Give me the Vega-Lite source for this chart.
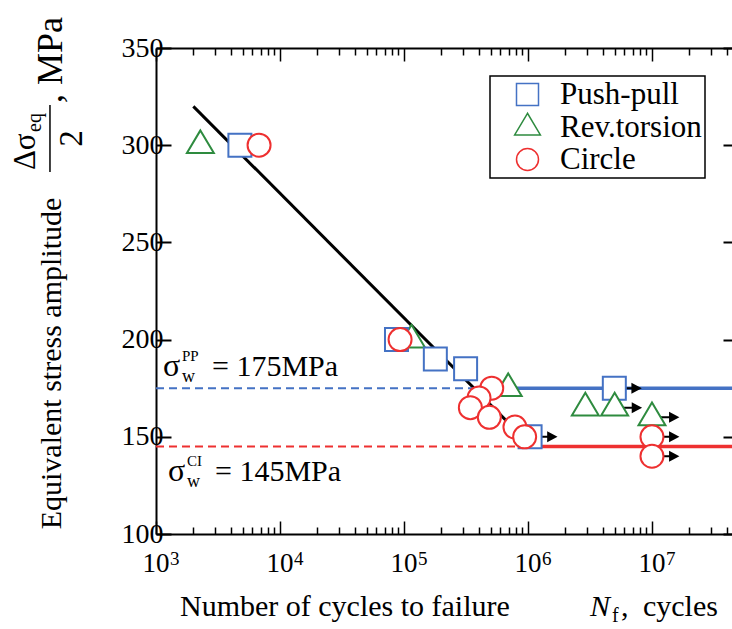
{
  "$schema": "https://vega.github.io/schema/vega-lite/v6.json",
  "width": 576,
  "height": 486,
  "autosize": {"type": "none"},
  "padding": {"left": 156, "top": 48, "right": 0, "bottom": 95},
  "background": "white",
  "config": {
    "view": {"stroke": null},
    "font": "Liberation Serif",
    "text": {"font": "Liberation Serif", "color": "black"},
    "legend": {"strokeWidth": 1.5}
  },
  "datasets": {
    "pts": [
      {"N": 2280, "S": 300, "type": "Rev.torsion", "runout": false},
      {"N": 115000, "S": 200, "type": "Rev.torsion", "runout": false},
      {"N": 4750, "S": 300, "type": "Push-pull", "runout": false},
      {"N": 87000, "S": 200, "type": "Push-pull", "runout": false},
      {"N": 179000, "S": 190, "type": "Push-pull", "runout": false},
      {"N": 314000, "S": 185, "type": "Push-pull", "runout": false},
      {"N": 1040000, "S": 150, "type": "Push-pull", "runout": true},
      {"N": 4970000, "S": 175, "type": "Push-pull", "runout": true},
      {"N": 693000, "S": 175, "type": "Rev.torsion", "runout": false},
      {"N": 2900000, "S": 165, "type": "Rev.torsion", "runout": false},
      {"N": 5000000, "S": 165, "type": "Rev.torsion", "runout": true},
      {"N": 10000000, "S": 160, "type": "Rev.torsion", "runout": true},
      {"N": 6780, "S": 300, "type": "Circle", "runout": false},
      {"N": 93000, "S": 200, "type": "Circle", "runout": false},
      {"N": 510000, "S": 175, "type": "Circle", "runout": false},
      {"N": 403000, "S": 170, "type": "Circle", "runout": false},
      {"N": 343000, "S": 165, "type": "Circle", "runout": false},
      {"N": 488000, "S": 160, "type": "Circle", "runout": false},
      {"N": 785000, "S": 155, "type": "Circle", "runout": false},
      {"N": 940000, "S": 150, "type": "Circle", "runout": false},
      {"N": 10000000, "S": 150, "type": "Circle", "runout": true},
      {"N": 10000000, "S": 140, "type": "Circle", "runout": true}
    ],
    "fit": [
      {"N": 2000, "S": 320},
      {"N": 1080000, "S": 145}
    ],
    "limits": [
      {"series": "Push-pull", "style": "dashed", "N1": 1000, "N2": 369000, "S": 175},
      {"series": "Push-pull", "style": "solid", "N1": 369000, "N2": 44200000, "S": 175},
      {"series": "Circle", "style": "dashed", "N1": 1000, "N2": 1080000, "S": 145},
      {"series": "Circle", "style": "solid", "N1": 1080000, "N2": 44200000, "S": 145}
    ],
    "xlab": [
      {"N": 1000, "e": "3"},
      {"N": 10000, "e": "4"},
      {"N": 100000, "e": "5"},
      {"N": 1000000, "e": "6"},
      {"N": 10000000, "e": "7"}
    ],
    "one": [{}]
  },
  "resolve": {"axis": {"x": "independent", "y": "independent"}},
  "layer": [
    {
      "data": {"name": "fit"},
      "mark": {"type": "line", "color": "black", "strokeWidth": 3},
      "encoding": {
        "x": {"field": "N", "type": "quantitative",
          "scale": {"type": "log", "domain": [1000, 44200000], "nice": false},
          "axis": {"orient": "bottom", "title": null, "labels": false, "grid": false,
            "values": [1000,2000,3000,4000,5000,6000,7000,8000,9000,10000,20000,30000,40000,50000,60000,70000,80000,90000,100000,200000,300000,400000,500000,600000,700000,800000,900000,1000000,2000000,3000000,4000000,5000000,6000000,7000000,8000000,9000000,10000000,20000000,30000000,40000000],
            "domainColor": "black", "domainWidth": 2, "tickColor": "black", "tickWidth": 1.5,
            "tickSize": {"condition": {"test": "abs(log(datum.value)/LN10 - round(log(datum.value)/LN10)) < 0.001", "value": -13}, "value": -7}}},
        "y": {"field": "S", "type": "quantitative",
          "scale": {"domain": [100, 350], "nice": false, "zero": false},
          "axis": {"orient": "left", "title": null, "grid": false, "values": [100,150,200,250,300,350],
            "domainColor": "black", "domainWidth": 2, "tickColor": "black", "tickWidth": 2, "tickSize": -15,
            "labelFont": "Liberation Serif", "labelFontSize": 28, "labelColor": "black", "labelPadding": 8, "labelFlush": false}}
      }
    },
    {
      "data": {"name": "limits"},
      "transform": [{"filter": "datum.series === 'Push-pull' && datum.style === 'dashed'"}],
      "mark": {"type": "rule", "color": "#4472C4", "strokeWidth": 2, "strokeDash": [8, 5]},
      "encoding": {
        "x": {"field": "N1", "type": "quantitative",
          "scale": {"type": "log", "domain": [1000, 44200000], "nice": false},
          "axis": {"orient": "top", "title": null, "labels": false, "grid": false,
            "values": [1000,2000,3000,4000,5000,6000,7000,8000,9000,10000,20000,30000,40000,50000,60000,70000,80000,90000,100000,200000,300000,400000,500000,600000,700000,800000,900000,1000000,2000000,3000000,4000000,5000000,6000000,7000000,8000000,9000000,10000000,20000000,30000000,40000000],
            "domainColor": "black", "domainWidth": 2, "tickColor": "black", "tickWidth": 1.5,
            "tickSize": {"condition": {"test": "abs(log(datum.value)/LN10 - round(log(datum.value)/LN10)) < 0.001", "value": -13}, "value": -7}}},
        "x2": {"field": "N2"},
        "y": {"field": "S", "type": "quantitative",
          "scale": {"domain": [100, 350], "nice": false, "zero": false},
          "axis": {"orient": "right", "title": null, "labels": false, "grid": false, "domain": false,
            "values": [100,150,200,250,300,350], "tickColor": "black", "tickWidth": 2, "tickSize": -9}}
      }
    },
    {
      "data": {"name": "limits"},
      "transform": [{"filter": "datum.series === 'Push-pull' && datum.style === 'solid'"}],
      "mark": {"type": "rule", "color": "#4472C4", "strokeWidth": 3.5},
      "encoding": {
        "x": {"field": "N1", "type": "quantitative", "scale": {"type": "log", "domain": [1000, 44200000], "nice": false}, "axis": null},
        "x2": {"field": "N2"},
        "y": {"field": "S", "type": "quantitative", "scale": {"domain": [100, 350], "nice": false, "zero": false}, "axis": null}
      }
    },
    {
      "data": {"name": "limits"},
      "transform": [{"filter": "datum.series === 'Circle' && datum.style === 'dashed'"}],
      "mark": {"type": "rule", "color": "#EE3030", "strokeWidth": 2, "strokeDash": [8, 5]},
      "encoding": {
        "x": {"field": "N1", "type": "quantitative", "scale": {"type": "log", "domain": [1000, 44200000], "nice": false}, "axis": null},
        "x2": {"field": "N2"},
        "y": {"field": "S", "type": "quantitative", "scale": {"domain": [100, 350], "nice": false, "zero": false}, "axis": null}
      }
    },
    {
      "data": {"name": "limits"},
      "transform": [{"filter": "datum.series === 'Circle' && datum.style === 'solid'"}],
      "mark": {"type": "rule", "color": "#EE3030", "strokeWidth": 3.5},
      "encoding": {
        "x": {"field": "N1", "type": "quantitative", "scale": {"type": "log", "domain": [1000, 44200000], "nice": false}, "axis": null},
        "x2": {"field": "N2"},
        "y": {"field": "S", "type": "quantitative", "scale": {"domain": [100, 350], "nice": false, "zero": false}, "axis": null}
      }
    },
    {
      "data": {"name": "pts"},
      "transform": [{"filter": "datum.runout"}],
      "mark": {"type": "point", "shape": "M0,-0.036H0.64V0.036H0Z M0.61,-0.196L0.98,0L0.61,0.196Z", "size": 3136, "filled": true, "fill": "black", "fillOpacity": 1, "strokeWidth": 0, "opacity": 1},
      "encoding": {
        "x": {"field": "N", "type": "quantitative", "scale": {"type": "log", "domain": [1000, 44200000], "nice": false}, "axis": null},
        "y": {"field": "S", "type": "quantitative", "scale": {"domain": [100, 350], "nice": false, "zero": false}, "axis": null}
      }
    },
    {
      "data": {"name": "pts"},
      "mark": {"type": "point", "fill": "white", "fillOpacity": 1, "strokeWidth": 2, "size": 529, "opacity": 1},
      "encoding": {
        "x": {"field": "N", "type": "quantitative", "scale": {"type": "log", "domain": [1000, 44200000], "nice": false}, "axis": null},
        "y": {"field": "S", "type": "quantitative", "scale": {"domain": [100, 350], "nice": false, "zero": false}, "axis": null},
        "stroke": {"field": "type", "type": "nominal",
          "scale": {"domain": ["Push-pull", "Rev.torsion", "Circle"], "range": ["#4472C4", "#2E8B3F", "#EE3030"]},
          "legend": {"title": null, "orient": "none", "legendX": 334, "legendY": 28, "labelFont": "Liberation Serif", "labelFontSize": 31, "labelColor": "black", "symbolSize": 484, "symbolStrokeWidth": 1.5, "symbolFillColor": "white", "symbolOpacity": 1, "padding": 3, "symbolOffset": 19, "labelOffset": 17, "rowPadding": 0, "strokeColor": "black", "fillColor": "white", "labelLimit": 0}},
        "shape": {"field": "type", "type": "nominal",
          "scale": {"domain": ["Push-pull", "Rev.torsion", "Circle"], "range": ["M-1,-1H1V1H-1Z", "M0,-1.29L-1.17,0.68L1.17,0.68Z", "M1,0A1,1,0,1,1,-1,0A1,1,0,1,1,1,0Z"]},
          "legend": {"title": null, "orient": "none", "legendX": 334, "legendY": 28, "labelFont": "Liberation Serif", "labelFontSize": 31, "labelColor": "black", "symbolSize": 484, "symbolStrokeWidth": 1.5, "symbolFillColor": "white", "symbolOpacity": 1, "padding": 3, "symbolOffset": 19, "labelOffset": 17, "rowPadding": 0, "strokeColor": "black", "fillColor": "white", "labelLimit": 0}}
      }
    },
    {
      "data": {"name": "xlab"},
      "mark": {"type": "text", "text": "10", "fontSize": 27, "dy": 38, "align": "center", "baseline": "alphabetic", "font": "Liberation Serif", "color": "black"},
      "encoding": {
        "x": {"field": "N", "type": "quantitative", "scale": {"type": "log", "domain": [1000, 44200000], "nice": false}, "axis": null},
        "y": {"datum": 100, "type": "quantitative", "scale": {"domain": [100, 350], "nice": false, "zero": false}, "axis": null}
      }
    },
    {
      "data": {"name": "xlab"},
      "mark": {"type": "text", "fontSize": 19, "dx": 14, "dy": 31, "align": "left", "baseline": "alphabetic", "font": "Liberation Serif", "color": "black"},
      "encoding": {
        "x": {"field": "N", "type": "quantitative", "scale": {"type": "log", "domain": [1000, 44200000], "nice": false}, "axis": null},
        "y": {"datum": 100, "type": "quantitative", "scale": {"domain": [100, 350], "nice": false, "zero": false}, "axis": null},
        "text": {"field": "e"}
      }
    },
    {
      "data": {"name": "one"},
      "layer": [
        {"mark": {"type": "text", "text": "Number of cycles to failure", "fontSize": 30, "align": "left", "baseline": "alphabetic"}},
        {"mark": {"type": "text", "text": "N", "fontSize": 30, "fontStyle": "italic", "dx": 410, "align": "left", "baseline": "alphabetic"}},
        {"mark": {"type": "text", "text": "f", "fontSize": 20, "dx": 432, "dy": 6, "align": "left", "baseline": "alphabetic"}},
        {"mark": {"type": "text", "text": ",", "fontSize": 30, "dx": 441, "align": "left", "baseline": "alphabetic"}},
        {"mark": {"type": "text", "text": "cycles", "fontSize": 30, "dx": 463, "align": "left", "baseline": "alphabetic"}}
      ],
      "encoding": {
        "x": {"datum": 1561, "scale": {"type": "log", "domain": [1000, 44200000], "nice": false}, "axis": null},
        "y": {"datum": 57.8, "scale": {"domain": [100, 350], "nice": false, "zero": false}, "axis": null}
      }
    },
    {
      "data": {"name": "one"},
      "layer": [
        {"mark": {"type": "text", "text": "σ", "fontSize": 32, "align": "left", "baseline": "alphabetic"}},
        {"mark": {"type": "text", "text": "w", "fontSize": 18, "dx": 19, "dy": 6, "align": "left", "baseline": "alphabetic"}},
        {"mark": {"type": "text", "text": "PP", "fontSize": 15, "dx": 19, "dy": -15, "align": "left", "baseline": "alphabetic"}},
        {"mark": {"type": "text", "text": "= 175MPa", "fontSize": 30, "dx": 49, "align": "left", "baseline": "alphabetic"}}
      ],
      "encoding": {
        "x": {"datum": 1139, "scale": {"type": "log", "domain": [1000, 44200000], "nice": false}, "axis": null},
        "y": {"datum": 181.3, "scale": {"domain": [100, 350], "nice": false, "zero": false}, "axis": null}
      }
    },
    {
      "data": {"name": "one"},
      "layer": [
        {"mark": {"type": "text", "text": "σ", "fontSize": 32, "align": "left", "baseline": "alphabetic"}},
        {"mark": {"type": "text", "text": "w", "fontSize": 18, "dx": 19, "dy": 6, "align": "left", "baseline": "alphabetic"}},
        {"mark": {"type": "text", "text": "CI", "fontSize": 15, "dx": 19, "dy": -15, "align": "left", "baseline": "alphabetic"}},
        {"mark": {"type": "text", "text": "= 145MPa", "fontSize": 30, "dx": 47, "align": "left", "baseline": "alphabetic"}}
      ],
      "encoding": {
        "x": {"datum": 1250, "scale": {"type": "log", "domain": [1000, 44200000], "nice": false}, "axis": null},
        "y": {"datum": 127.3, "scale": {"domain": [100, 350], "nice": false, "zero": false}, "axis": null}
      }
    },
    {
      "data": {"name": "one"},
      "mark": {"type": "text", "text": "Equivalent stress amplitude", "fontSize": 30, "angle": 270, "align": "center", "baseline": "alphabetic"},
      "encoding": {
        "x": {"datum": 171.4, "scale": {"type": "log", "domain": [1000, 44200000], "nice": false}, "axis": null},
        "y": {"datum": 187.7, "scale": {"domain": [100, 350], "nice": false, "zero": false}, "axis": null}
      }
    },
    {
      "data": {"name": "one"},
      "mark": {"type": "text", "text": "Δσ", "fontSize": 31, "angle": 270, "align": "left", "baseline": "alphabetic"},
      "encoding": {
        "x": {"datum": 105.7, "scale": {"type": "log", "domain": [1000, 44200000], "nice": false}, "axis": null},
        "y": {"datum": 287.2, "scale": {"domain": [100, 350], "nice": false, "zero": false}, "axis": null}
      }
    },
    {
      "data": {"name": "one"},
      "mark": {"type": "text", "text": "eq", "fontSize": 20, "angle": 270, "align": "left", "baseline": "alphabetic"},
      "encoding": {
        "x": {"datum": 118.2, "scale": {"type": "log", "domain": [1000, 44200000], "nice": false}, "axis": null},
        "y": {"datum": 306.8, "scale": {"domain": [100, 350], "nice": false, "zero": false}, "axis": null}
      }
    },
    {
      "data": {"name": "one"},
      "mark": {"type": "rule", "color": "black", "strokeWidth": 1.5},
      "encoding": {
        "x": {"datum": 139.6, "scale": {"type": "log", "domain": [1000, 44200000], "nice": false}, "axis": null},
        "y": {"datum": 286.2, "scale": {"domain": [100, 350], "nice": false, "zero": false}, "axis": null},
        "y2": {"datum": 320.7}
      }
    },
    {
      "data": {"name": "one"},
      "mark": {"type": "text", "text": "2", "fontSize": 33, "angle": 270, "align": "center", "baseline": "alphabetic"},
      "encoding": {
        "x": {"datum": 253, "scale": {"type": "log", "domain": [1000, 44200000], "nice": false}, "axis": null},
        "y": {"datum": 303.4, "scale": {"domain": [100, 350], "nice": false, "zero": false}, "axis": null}
      }
    },
    {
      "data": {"name": "one"},
      "mark": {"type": "text", "text": ", MPa", "fontSize": 36, "angle": 270, "align": "left", "baseline": "alphabetic"},
      "encoding": {
        "x": {"datum": 174.6, "scale": {"type": "log", "domain": [1000, 44200000], "nice": false}, "axis": null},
        "y": {"datum": 321.7, "scale": {"domain": [100, 350], "nice": false, "zero": false}, "axis": null}
      }
    }
  ]
}
